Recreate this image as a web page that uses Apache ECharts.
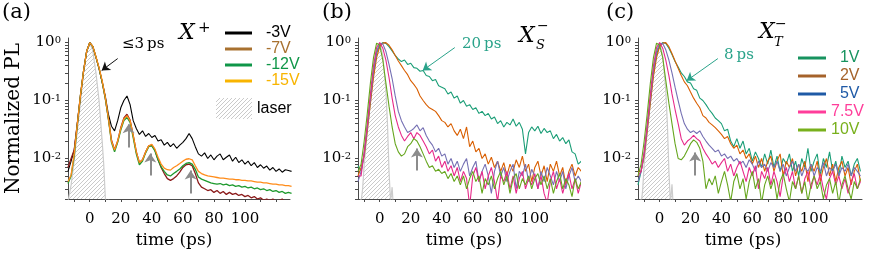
<!DOCTYPE html>
<html><head><meta charset="utf-8">
<script src="https://cdn.jsdelivr.net/npm/echarts@6/dist/echarts.min.js"></script>
<style>html,body{margin:0;padding:0;background:#fff}#c{width:872px;height:258px}</style>
</head><body><div id="c"></div>
<script>
// ---------- data ----------
const time = [-14,-12,-10,-8,-6,-4,-2,0,2,4,6,8,10,12,14,16,18,20,22,24,26,28,30,32,34,36,38,40,42,44,46,48,50,52,54,56,58,60,62,64,66,68,70,72,74,76,78,80,82,84,86,88,90,92,94,96,98,100,102,104,106,108,110,112,114,116,118,120,122,124,126,128,130];

// panel (a) X+
const aM3V = [0.006,0.009,0.014,0.04,0.12,0.32,0.7,1.0,0.85,0.56,0.36,0.21,0.12,0.058,0.036,0.03,0.045,0.075,0.1,0.12,0.085,0.045,0.033,0.026,0.03,0.024,0.027,0.023,0.025,0.02,0.021,0.017,0.019,0.016,0.018,0.015,0.017,0.019,0.022,0.027,0.022,0.016,0.012,0.011,0.0125,0.01,0.0115,0.0095,0.011,0.012,0.0095,0.0105,0.0115,0.009,0.0105,0.0085,0.0095,0.008,0.009,0.0075,0.0085,0.007,0.0078,0.0068,0.0074,0.0063,0.007,0.006,0.0066,0.0058,0.0064,0.0062,0.006];
const aM7V = [0.007,0.01,0.014,0.04,0.12,0.32,0.7,1.0,0.85,0.56,0.36,0.21,0.11,0.05,0.021,0.014,0.02,0.034,0.05,0.058,0.046,0.025,0.013,0.0085,0.0095,0.013,0.0165,0.017,0.014,0.0095,0.007,0.0055,0.0045,0.0042,0.0045,0.005,0.0058,0.007,0.0078,0.008,0.0075,0.0055,0.0038,0.0032,0.003,0.0028,0.0029,0.0026,0.0028,0.0025,0.0027,0.0024,0.0026,0.0024,0.0025,0.0023,0.0024,0.0022,0.0023,0.0021,0.0022,0.002,0.0021,0.0019,0.002,0.0019,0.002,0.0018,0.0019,0.002,0.0018,0.0019,0.0018];
const aM12V = [0.0037,0.005,0.011,0.038,0.12,0.32,0.7,1.0,0.85,0.56,0.36,0.21,0.11,0.048,0.019,0.013,0.019,0.031,0.045,0.051,0.042,0.023,0.012,0.0078,0.009,0.0125,0.016,0.0165,0.0135,0.0095,0.0072,0.006,0.0052,0.005,0.0055,0.006,0.0066,0.0075,0.0082,0.0085,0.008,0.0065,0.0048,0.0044,0.0042,0.004,0.0038,0.0037,0.0036,0.0037,0.0035,0.0036,0.0034,0.0035,0.0033,0.0034,0.0032,0.0033,0.0031,0.0032,0.003,0.0031,0.0029,0.003,0.0028,0.0029,0.0027,0.0028,0.0026,0.0027,0.0025,0.0026,0.0025];
const aM15V = [0.004,0.0052,0.012,0.039,0.12,0.32,0.7,1.0,0.86,0.57,0.37,0.22,0.115,0.05,0.02,0.014,0.02,0.033,0.048,0.055,0.045,0.025,0.013,0.0085,0.0095,0.013,0.0165,0.0175,0.0145,0.0105,0.008,0.0068,0.0064,0.0063,0.007,0.0075,0.0082,0.009,0.0097,0.0099,0.0095,0.0075,0.006,0.0055,0.0052,0.005,0.0049,0.0048,0.0047,0.0046,0.0046,0.0045,0.0044,0.0044,0.0043,0.0043,0.0042,0.0042,0.0041,0.0041,0.004,0.0039,0.0039,0.0038,0.0038,0.0037,0.0036,0.0036,0.0035,0.0035,0.0034,0.0034,0.0033];

// panel (b) XS-
const b1V = [0.0075,0.006,0.012,0.035,0.1,0.3,0.65,0.92,1.0,0.97,0.85,0.72,0.6,0.52,0.47,0.5,0.42,0.44,0.37,0.36,0.32,0.33,0.27,0.26,0.22,0.23,0.18,0.17,0.16,0.13,0.14,0.11,0.12,0.09,0.1,0.08,0.085,0.07,0.075,0.06,0.065,0.055,0.06,0.048,0.052,0.04,0.045,0.035,0.042,0.038,0.048,0.036,0.042,0.032,0.012,0.028,0.035,0.03,0.036,0.027,0.033,0.028,0.03,0.022,0.026,0.02,0.023,0.018,0.021,0.013,0.012,0.008,0.009];
const b2V = [0.005,0.007,0.011,0.03,0.09,0.25,0.55,0.85,0.98,1.0,0.9,0.75,0.6,0.48,0.4,0.33,0.28,0.22,0.19,0.16,0.12,0.1,0.085,0.075,0.07,0.065,0.055,0.045,0.042,0.035,0.04,0.03,0.025,0.032,0.022,0.035,0.016,0.02,0.013,0.015,0.01,0.012,0.008,0.0105,0.007,0.009,0.006,0.0085,0.005,0.008,0.006,0.0095,0.007,0.011,0.006,0.008,0.004,0.007,0.009,0.005,0.0075,0.004,0.008,0.006,0.009,0.005,0.007,0.0035,0.006,0.008,0.005,0.007,0.006];
const b5V = [0.004,0.006,0.012,0.035,0.11,0.32,0.7,0.95,0.95,0.7,0.42,0.24,0.12,0.065,0.045,0.035,0.028,0.03,0.033,0.038,0.03,0.034,0.025,0.02,0.017,0.013,0.015,0.011,0.012,0.008,0.01,0.007,0.009,0.006,0.008,0.01,0.005,0.007,0.009,0.004,0.006,0.008,0.005,0.0025,0.006,0.009,0.005,0.007,0.004,0.006,0.008,0.003,0.006,0.005,0.008,0.004,0.0065,0.005,0.003,0.006,0.004,0.007,0.005,0.0035,0.006,0.004,0.006,0.003,0.005,0.007,0.004,0.005,0.004];
const b75V = [0.005,0.005,0.013,0.04,0.13,0.4,0.82,1.0,0.8,0.5,0.25,0.11,0.055,0.035,0.025,0.02,0.024,0.028,0.022,0.028,0.025,0.02,0.016,0.012,0.014,0.009,0.011,0.007,0.009,0.006,0.0075,0.005,0.007,0.004,0.006,0.0045,0.0015,0.005,0.007,0.004,0.006,0.003,0.005,0.007,0.004,0.0018,0.005,0.004,0.006,0.003,0.005,0.0025,0.0045,0.006,0.003,0.0045,0.0035,0.0055,0.003,0.005,0.0025,0.0017,0.004,0.006,0.003,0.0045,0.0025,0.004,0.0055,0.003,0.0045,0.0025,0.004];
const b10V = [0.006,0.008,0.02,0.06,0.2,0.55,0.98,0.9,0.5,0.2,0.08,0.035,0.018,0.013,0.011,0.012,0.016,0.018,0.022,0.02,0.016,0.012,0.009,0.007,0.0075,0.006,0.0065,0.0055,0.006,0.0045,0.0055,0.004,0.005,0.0035,0.005,0.003,0.0045,0.006,0.004,0.005,0.0025,0.0045,0.0035,0.005,0.003,0.0045,0.006,0.0035,0.005,0.0025,0.0045,0.0055,0.003,0.0045,0.0035,0.005,0.003,0.0045,0.0055,0.0035,0.005,0.003,0.0045,0.0025,0.004,0.0055,0.003,0.0045,0.0035,0.0022,0.0045,0.003,0.004];

// panel (c) XT-
const c1V = [0.0035,0.006,0.012,0.035,0.1,0.3,0.62,0.9,1.0,0.97,0.8,0.62,0.47,0.38,0.3,0.26,0.21,0.2,0.16,0.15,0.11,0.1,0.085,0.07,0.06,0.05,0.045,0.04,0.03,0.032,0.02,0.016,0.022,0.015,0.02,0.012,0.015,0.009,0.013,0.01,0.007,0.012,0.008,0.014,0.007,0.011,0.006,0.01,0.008,0.012,0.006,0.009,0.005,0.01,0.007,0.015,0.006,0.009,0.012,0.005,0.01,0.007,0.013,0.006,0.009,0.005,0.011,0.007,0.009,0.005,0.008,0.01,0.006];
const c2V = [0.006,0.006,0.011,0.03,0.09,0.26,0.55,0.85,0.98,1.0,0.85,0.65,0.48,0.36,0.27,0.21,0.18,0.14,0.11,0.09,0.075,0.055,0.05,0.042,0.038,0.034,0.03,0.026,0.022,0.024,0.018,0.015,0.017,0.012,0.014,0.01,0.012,0.008,0.011,0.007,0.01,0.006,0.009,0.011,0.006,0.009,0.012,0.005,0.009,0.007,0.01,0.005,0.008,0.006,0.009,0.004,0.008,0.006,0.009,0.004,0.007,0.01,0.005,0.008,0.004,0.007,0.009,0.005,0.007,0.0035,0.006,0.008,0.004];
const c5V = [0.004,0.006,0.012,0.035,0.11,0.33,0.7,0.95,0.96,0.75,0.5,0.3,0.17,0.1,0.06,0.04,0.032,0.028,0.03,0.027,0.03,0.024,0.02,0.017,0.015,0.013,0.014,0.011,0.012,0.01,0.011,0.009,0.01,0.008,0.009,0.007,0.0095,0.008,0.006,0.009,0.007,0.008,0.006,0.0085,0.007,0.009,0.006,0.008,0.005,0.007,0.009,0.006,0.008,0.005,0.007,0.006,0.008,0.005,0.007,0.006,0.0085,0.005,0.007,0.006,0.008,0.005,0.007,0.006,0.008,0.005,0.007,0.006,0.005];
const c75V = [0.005,0.006,0.013,0.04,0.13,0.4,0.82,1.0,0.8,0.5,0.27,0.13,0.07,0.04,0.022,0.017,0.02,0.022,0.025,0.022,0.02,0.015,0.012,0.01,0.008,0.009,0.007,0.0085,0.01,0.006,0.008,0.005,0.007,0.009,0.006,0.004,0.007,0.005,0.0075,0.003,0.006,0.0045,0.007,0.0035,0.006,0.004,0.0022,0.005,0.007,0.004,0.006,0.003,0.005,0.0025,0.0045,0.006,0.003,0.005,0.0035,0.0055,0.003,0.002,0.0045,0.006,0.0035,0.005,0.003,0.0045,0.0025,0.004,0.0055,0.003,0.004];
const c10V = [0.005,0.008,0.02,0.06,0.2,0.55,0.98,0.9,0.55,0.22,0.09,0.04,0.018,0.01,0.0095,0.011,0.014,0.018,0.021,0.019,0.015,0.009,0.003,0.0045,0.0035,0.005,0.0025,0.004,0.006,0.0035,0.0018,0.004,0.0055,0.003,0.0045,0.002,0.004,0.006,0.003,0.0045,0.0017,0.0035,0.005,0.003,0.0045,0.002,0.004,0.0055,0.003,0.0018,0.004,0.003,0.005,0.0025,0.004,0.0018,0.0035,0.005,0.003,0.004,0.002,0.0035,0.0045,0.0025,0.004,0.0017,0.0035,0.005,0.003,0.002,0.004,0.003,0.0045];

// laser pulse
const laserTimeA = [-14,-12,-10,-8,-6,-4,-2,0,2,4,6,8,9,10,11,12];
const laserA = [0.0018,0.0035,0.009,0.03,0.09,0.3,0.72,1.0,0.72,0.3,0.1,0.02,0.008,0.0022,0.0012,0.001];
const laserTimeBC = [-14,-12,-11,-10,-8,-6,-4,-2,0,2,4,5,6,7,8,9,10];
const laserB = [0.0012,0.0018,0.003,0.008,0.028,0.09,0.3,0.72,1.0,0.6,0.15,0.04,0.006,0.0018,0.0032,0.0012,0.001];
const laserC = [0.0012,0.0016,0.0028,0.008,0.028,0.09,0.3,0.72,1.0,0.6,0.15,0.04,0.006,0.0017,0.0036,0.0012,0.001];

// axes
const xTickValues = [-10,0,10,20,30,40,50,60,70,80,90,100,110,120];
const xLabelValues = [0,20,40,60,80,100];
const yLabelValues = [0.01,0.1,1];
const yTickValues = [0.002,0.003,0.004,0.005,0.006,0.007,0.008,0.009,0.01,0.02,0.03,0.04,0.05,0.06,0.07,0.08,0.09,0.1,0.2,0.3,0.4,0.5,0.6,0.7,0.8,0.9,1];

// ---------- chart ----------
const hatch = document.createElement('canvas');
hatch.width = 4; hatch.height = 4;
const hc = hatch.getContext('2d');
hc.strokeStyle = '#c4c4c4'; hc.lineWidth = 0.9;
hc.beginPath(); hc.moveTo(0,4); hc.lineTo(4,0); hc.moveTo(-1,1); hc.lineTo(1,-1); hc.moveTo(3,5); hc.lineTo(5,3); hc.stroke();
const hatchFill = {image: hatch, repeat: 'repeat'};

const SERIF = '"DejaVu Serif", serif';
const SANS = '"Liberation Sans", Arial, sans-serif';
const GRAY = '#8c8c8c';
const TEAL = '#2aa38a';

function pairs(xs, ys) { return xs.map((x, i) => [x, ys[i]]); }
function curve(name, xs, ys, idx, color, width) {
  return {type:'line', name, xAxisIndex: idx, yAxisIndex: idx, data: pairs(xs, ys),
    showSymbol:false, symbol:'none', lineStyle:{color, width}, itemStyle:{color},
    silent:true, clip:true, animation:false};
}
function arrow(from, to, color, width, size) {
  return [{coord: from, symbol:'none', lineStyle:{color, width, type:'solid'}},
          {coord: to, symbol:'arrow', symbolSize: size}];
}
function laser(xs, ys, idx, arrows) {
  const s = curve('laser', xs, ys, idx, '#cccccc', 1.2);
  s.areaStyle = {color: hatchFill, origin:'start', opacity: 1};
  s.markLine = {silent:true, symbol:['none','arrow'], label:{show:false}, animation:false,
    emphasis:{disabled:true}, data: arrows};
  return s;
}

const grids = [
  {left:68, top:38, width:222, height:161},
  {left:358, top:38, width:221, height:161},
  {left:638, top:38, width:224, height:161}
];
const xMax = [129, 128.5, 131];
const namePad = [10, 9, 14];
const axisColor = '#4a4a4a';

const xAxes = grids.map((g, i) => ({
  type:'value', gridIndex:i, min:-14, max:xMax[i],
  axisLine:{show:true, onZero:false, lineStyle:{color:axisColor, width:1}},
  splitLine:{show:false},
  axisTick:{show:true, customValues:xTickValues, length:3, lineStyle:{color:axisColor}},
  axisLabel:{customValues:xLabelValues, fontSize:15, fontFamily:SERIF, color:'#000', margin:13},
  name:'time (ps)', nameLocation:'middle', nameGap:32,
  nameTextStyle:{fontSize:17, fontFamily:SERIF, color:'#000', padding:[0, namePad[i], 0, 0]}
}));
const yAxes = grids.map((g, i) => ({
  type:'log', logBase:10, gridIndex:i, min:0.002, max:1.2,
  axisLine:{show:true, onZero:false, lineStyle:{color:axisColor, width:1}},
  splitLine:{show:false}, minorTick:{show:false},
  axisTick:{show:true, customValues:yTickValues, length:3, lineStyle:{color:axisColor}},
  axisLabel:{customValues:yLabelValues, margin:7, color:'#000',
    formatter: v => '{m|10}{e|' + Math.round(Math.log10(v)) + '}',
    rich:{m:{fontSize:15, fontFamily:SERIF, color:'#000'},
          e:{fontSize:10, fontFamily:SERIF, color:'#000', verticalAlign:'top'}}},
  name: i === 0 ? 'Normalized PL' : '', nameLocation:'middle', nameGap:44,
  nameTextStyle:{fontSize:20, fontFamily:SERIF, color:'#000'}
}));

const bcColors = ['#1b9e77','#d95f02','#7570b3','#e7298a','#66a61e'];
const series = [
  laser(laserTimeA, laserA, 0, [
    arrow([18, 0.53], [7.7, 0.33], '#111', 1, 8),
    arrow([25, 0.0155], [25, 0.039], GRAY, 2, 9),
    arrow([39, 0.0051], [39, 0.0122], GRAY, 2, 9),
    arrow([65, 0.0025], [65, 0.0062], GRAY, 2, 9)
  ]),
  curve('-3V', time, aM3V, 0, '#000000', 1.1),
  curve('-7V', time, aM7V, 0, '#8b1a1a', 1.3),
  curve('-12V', time, aM12V, 0, '#1e9a2e', 1.3),
  curve('-15V', time, aM15V, 0, '#ff8c1a', 1.3),
  laser(laserTimeBC, laserB, 1, [
    arrow([48.4, 0.82], [27.7, 0.33], TEAL, 1, 8),
    arrow([24, 0.0062], [24, 0.0149], GRAY, 2, 9)
  ]),
  curve('1V', time, b1V, 1, bcColors[0], 1.1),
  curve('2V', time, b2V, 1, bcColors[1], 1.1),
  curve('5V', time, b5V, 1, bcColors[2], 1.1),
  curve('7.5V', time, b75V, 1, bcColors[3], 1.1),
  curve('10V', time, b10V, 1, bcColors[4], 1.1),
  laser(laserTimeBC, laserC, 2, [
    arrow([37.7, 0.53], [17.5, 0.22], TEAL, 1, 8),
    arrow([23, 0.0051], [23, 0.0127], GRAY, 2, 9)
  ]),
  curve('1V', time, c1V, 2, bcColors[0], 1.1),
  curve('2V', time, c2V, 2, bcColors[1], 1.1),
  curve('5V', time, c5V, 2, bcColors[2], 1.1),
  curve('7.5V', time, c75V, 2, bcColors[3], 1.1),
  curve('10V', time, c10V, 2, bcColors[4], 1.1)
];

function legItem(name, color) {
  return {name, itemStyle:{color, borderWidth:0}, textStyle:{color}};
}
const legends = [
  {left:225, top:25, orient:'vertical', padding:0, icon:'rect', itemWidth:27, itemHeight:3, itemGap:0,
   selectedMode:false, formatter: n => '  ' + n,
   textStyle:{fontSize:16, fontFamily:SANS, lineHeight:16},
   data:[legItem('-3V','#000000'), legItem('-7V','#a8712f'), legItem('-12V','#0f9648'), legItem('-15V','#f8b400')]},
  {left:216, top:98, orient:'vertical', padding:0, icon:'rect', itemWidth:36, itemHeight:21,
   selectedMode:false, textStyle:{fontSize:16, fontFamily:SANS, color:'#000'},
   data:[{name:'laser', itemStyle:{color:hatchFill, borderWidth:0}, textStyle:{color:'#000'}}]},
  {left:798, top:50, orient:'vertical', padding:0, icon:'rect', itemWidth:28, itemHeight:3, itemGap:2,
   selectedMode:false, formatter: n => (n.length <= 2 ? '  ' + n : n),
   textStyle:{fontSize:16, fontFamily:SANS, lineHeight:16},
   data:[legItem('1V','#17935f'), legItem('2V','#a5622a'), legItem('5V','#1f5aa6'), legItem('7.5V','#ff3d9a'), legItem('10V','#78b01c')]}
];

function txt(left, top, text, font, fill) {
  return {type:'text', left, top, silent:true, style:{text, font, fill: fill || '#000'}};
}
const graphics = [
  txt(2, 2, '(a)', '21px ' + SERIF),
  txt(322, 2, '(b)', '21px ' + SERIF),
  txt(606, 2, '(c)', '21px ' + SERIF),
  txt(122, 37, '\u22643\u2009ps', '15px ' + SERIF),
  txt(462, 37, '20\u2009ps', '15px ' + SERIF, TEAL),
  txt(724, 48, '8\u2009ps', '15px ' + SERIF, TEAL),
  txt(179, 22, 'X', 'italic 22px ' + SERIF),
  txt(198, 21, '+', '15px ' + SERIF),
  txt(519, 25, 'X', 'italic 22px ' + SERIF),
  txt(536, 39, 'S', 'italic 13px ' + SERIF),
  txt(537, 19, '\u2212', '14px ' + SERIF),
  txt(759, 21, 'X', 'italic 22px ' + SERIF),
  txt(774, 36, 'T', 'italic 13px ' + SERIF),
  txt(775, 17, '\u2212', '14px ' + SERIF)
];

const chart = echarts.init(document.getElementById('c'), null, {renderer:'canvas'});
chart.setOption({
  animation:false,
  backgroundColor:'#ffffff',
  grid: grids,
  xAxis: xAxes,
  yAxis: yAxes,
  legend: legends,
  series,
  graphic: graphics
});
</script>
</body></html>
